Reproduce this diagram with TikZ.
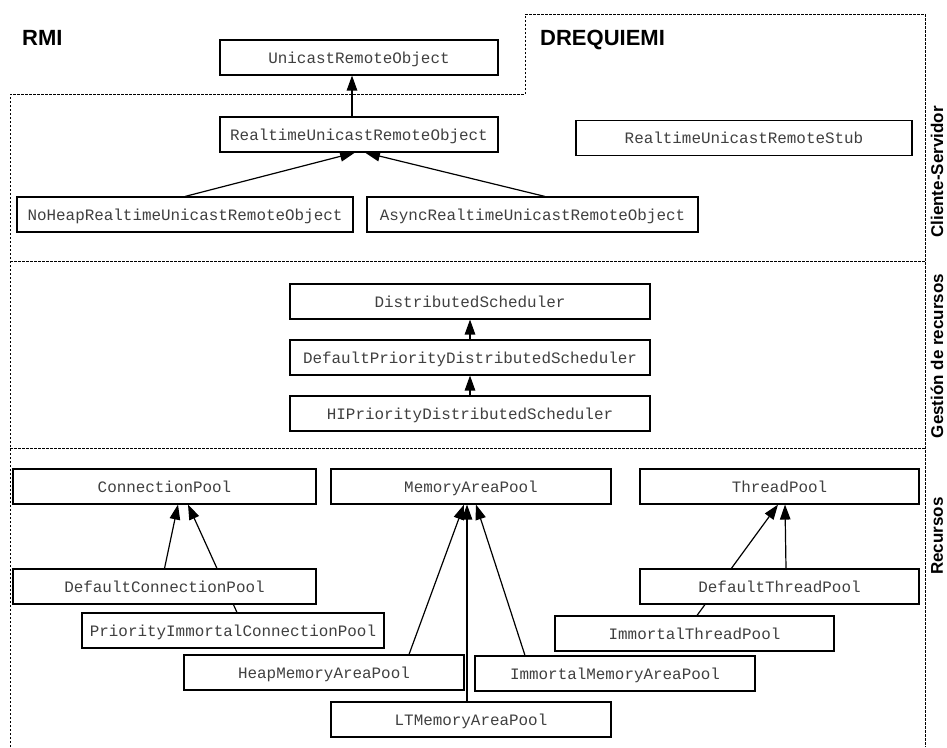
\documentclass[tikz,border=0pt]{standalone}
\usepackage{fontspec}
\setmainfont{Liberation Sans}
\newfontfamily\classfont{Liberation Mono}
\usetikzlibrary{arrows.meta,backgrounds}

\tikzset{
  classbox/.style={draw, line width=1.1pt, fill=white, inner sep=0pt,
    minimum height=35pt, text height=12.5pt, text depth=1.5pt, text=black!75,
    font=\classfont\fontsize{15.9}{18}\selectfont},
  inherits/.style={line width=1.2pt, -{Triangle[length=15pt,width=10.5pt]}},
  region/.style={line width=0.8pt, dash pattern=on 2.5pt off 1.5pt},
  title/.style={font=\bfseries\fontsize{22}{26}\selectfont, anchor=base west, inner sep=0pt},
  layer/.style={font=\bfseries\fontsize{17}{20}\selectfont, rotate=90, inner sep=0pt}
}

\begin{document}
\begin{tikzpicture}[x=1pt, y=-1pt]
\useasboundingbox (0,0) rectangle (947,747);

% framework boundary and layer separators
\coordinate (r1) at (10,747);
\coordinate (r2) at (10,94);
\coordinate (r3) at (525,94);
\coordinate (r4) at (525,14);
\coordinate (r5) at (925,14);
\coordinate (r6) at (925,747);
\draw[region] (r1) -- (r2) -- (r3) -- (r4) -- (r5) -- (r6);
\draw[region] (10,261) -- (925,261);
\draw[region] (10,448) -- (925,448);

% titles
\node[title] (rmi) at (22,45) {RMI};
\node[title] (drq) at (540,45) {DREQUIEMI};

% layer names
\node[layer] (lcs) at (937,172) {Cliente-Servidor};
\node[layer] (lgr) at (937,356) {Gestión de recursos};
\node[layer] (lre) at (937,536) {Recursos};

% client-server layer
\node[classbox, minimum width=278pt] (uro)   at (359,57.5)  {UnicastRemoteObject};
\node[classbox, minimum width=278pt] (ruro)  at (359,134.5) {RealtimeUnicastRemoteObject};
\node[classbox, minimum width=336pt] (rurs)  at (744,138)   {RealtimeUnicastRemoteStub};
\node[classbox, minimum width=336pt] (noheap) at (185,214.5) {NoHeapRealtimeUnicastRemoteObject};
\node[classbox, minimum width=331pt] (async) at (532.5,214.5) {AsyncRealtimeUnicastRemoteObject};

% resource management layer
\node[classbox, minimum width=360pt] (ds)    at (470,301.5) {DistributedScheduler};
\node[classbox, minimum width=360pt] (dpds)  at (470,357.5) {DefaultPriorityDistributedScheduler};
\node[classbox, minimum width=360pt] (hipds) at (470,413.5) {HIPriorityDistributedScheduler};

% resources layer
\node[classbox, minimum width=303pt] (cp)    at (164.5,486.5) {ConnectionPool};
\node[classbox, minimum width=280pt] (map)   at (471,486.5)   {MemoryAreaPool};
\node[classbox, minimum width=279pt] (tp)    at (779.5,486.5) {ThreadPool};
\node[classbox, minimum width=303pt] (dcp)   at (164.5,586.5) {DefaultConnectionPool};
\node[classbox, minimum width=302pt] (picp)  at (233,630.5)   {PriorityImmortalConnectionPool};
\node[classbox, minimum width=279pt] (dtp)   at (779.5,586.5) {DefaultThreadPool};
\node[classbox, minimum width=279pt] (itp)   at (694.5,633.5) {ImmortalThreadPool};
\node[classbox, minimum width=280pt] (hmap)  at (324,672.5)   {HeapMemoryAreaPool};
\node[classbox, minimum width=280pt] (imap)  at (615,673.5)   {ImmortalMemoryAreaPool};
\node[classbox, minimum width=280pt] (ltmap) at (471,719.5)   {LTMemoryAreaPool};

% inheritance arrows, kept behind the boxes
\begin{scope}[on background layer]
\draw[inherits] ([xshift=-7pt]ruro.north) -- ([xshift=-7pt]uro.south);
\draw[inherits] (noheap.north) -- ([xshift=-4pt]ruro.south);
\draw[inherits] ([xshift=12.5pt]async.north) -- ([xshift=6pt]ruro.south);

\draw[inherits] (dpds.north) -- (ds.south);
\draw[inherits] (hipds.north) -- (dpds.south);

\draw[inherits] (dcp.north) -- ([xshift=13.5pt]cp.south);
\draw[inherits] ([xshift=4pt]picp.north) -- ([xshift=23.5pt]cp.south);

\draw[inherits] ([xshift=85pt]hmap.north) -- ([xshift=-7pt]map.south);
\draw[inherits] ([xshift=-4pt]ltmap.north) -- ([xshift=-4pt]map.south);
\draw[inherits] ([xshift=-90pt]imap.north) -- ([xshift=5pt]map.south);

\draw[inherits] ([xshift=6.5pt]dtp.north) -- ([xshift=5.5pt]tp.south);
\draw[inherits] ([xshift=2.5pt]itp.north) -- ([xshift=-1.5pt]tp.south);
\end{scope}
\end{tikzpicture}
\end{document}
